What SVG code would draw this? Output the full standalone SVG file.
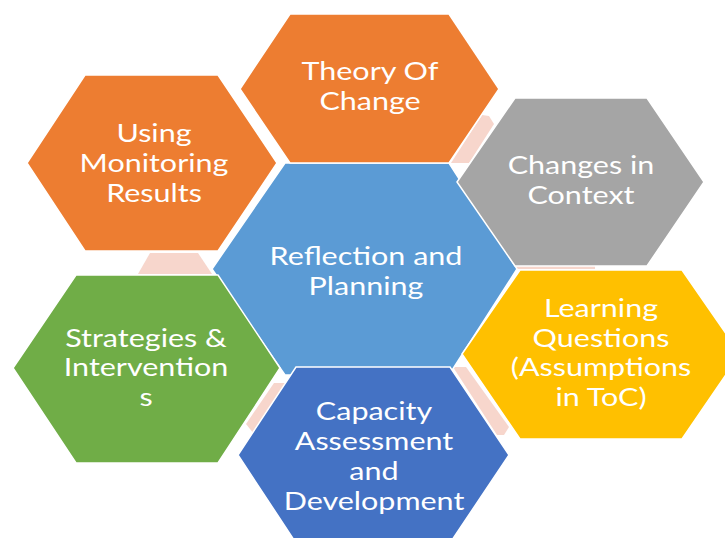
<svg xmlns="http://www.w3.org/2000/svg" width="725" height="538" viewBox="0 0 725 538">
<style>
.hex{stroke:#FFFFFF;stroke-width:1.5;stroke-linejoin:miter}
.lbl{font-family:Lato,"Open Sans","Liberation Sans",sans-serif;font-size:25px;fill:#FFFFFF;text-anchor:middle}
.conn{fill:#F7D6CC}
</style>
<rect width="725" height="538" fill="#FFFFFF"/>
<g id="connectors">
<polygon class="conn" points="451,163 482,115 489,116 494,124 469,163"/>
<polygon class="conn" points="150,253 198,253 212,274 138,274"/>
<polygon class="conn" points="274,383 287,383 254,434 246,424"/>
<polygon class="conn" points="453,367 466,367 509,427 504,435 497,435"/>
<rect class="conn" x="515" y="266" width="80" height="3"/>
</g>
<g id="center">
<polygon class="hex" fill="#5B9BD5" points="212,269 285,163 449,163 517,269 449,375 285,375"/>
<g transform="translate(366,0) scale(1.22,1)"><text class="lbl" x="0" y="265">Reflection and</text><text class="lbl" x="0" y="295">Planning</text></g>
</g>
<g id="theory">
<polygon class="hex" fill="#ED7D31" points="240,89 290,14 449,14 499,89 449,163 290,163"/>
<g transform="translate(370,0) scale(1.22,1)"><text class="lbl" x="0" y="80">Theory Of</text><text class="lbl" x="0" y="110">Change</text></g>
</g>
<g id="monitoring">
<polygon class="hex" fill="#ED7D31" points="27,163 85,75 218,75 277,163 218,251 85,251"/>
<g transform="translate(154,0) scale(1.22,1)"><text class="lbl" x="0" y="142">Using</text><text class="lbl" x="0" y="172">Monitoring</text><text class="lbl" x="0" y="202">Results</text></g>
</g>
<g id="context">
<polygon class="hex" fill="#A5A5A5" points="457,182 515,98 647,98 704,182 647,266 515,266"/>
<g transform="translate(581,0) scale(1.22,1)"><text class="lbl" x="0" y="174">Changes in</text><text class="lbl" x="0" y="204">Context</text></g>
</g>
<g id="learning">
<polygon class="hex" fill="#FFC000" points="462,354 520,270 682,270 740,354 682,439 520,439"/>
<g transform="translate(601,0) scale(1.22,1)"><text class="lbl" x="0" y="317">Learning</text><text class="lbl" x="0" y="347">Questions</text><text class="lbl" x="0" y="376">(Assumptions</text><text class="lbl" x="0" y="406">in ToC)</text></g>
</g>
<g id="strategies">
<polygon class="hex" fill="#70AD47" points="13,368 76,275 218,275 280,368 218,463 76,463"/>
<g transform="translate(146,0) scale(1.22,1)"><text class="lbl" x="0" y="347">Strategies &amp;</text><text class="lbl" x="0" y="376">Intervention</text><text class="lbl" x="0" y="406">s</text></g>
</g>
<g id="capacity">
<polygon class="hex" fill="#4472C4" points="238,455 296,367 450,367 509,455 450,543 296,543"/>
<g transform="translate(374,0) scale(1.22,1)"><text class="lbl" x="0" y="420">Capacity</text><text class="lbl" x="0" y="450">Assessment</text><text class="lbl" x="0" y="480">and</text><text class="lbl" x="0" y="510">Development</text></g>
</g>
</svg>
